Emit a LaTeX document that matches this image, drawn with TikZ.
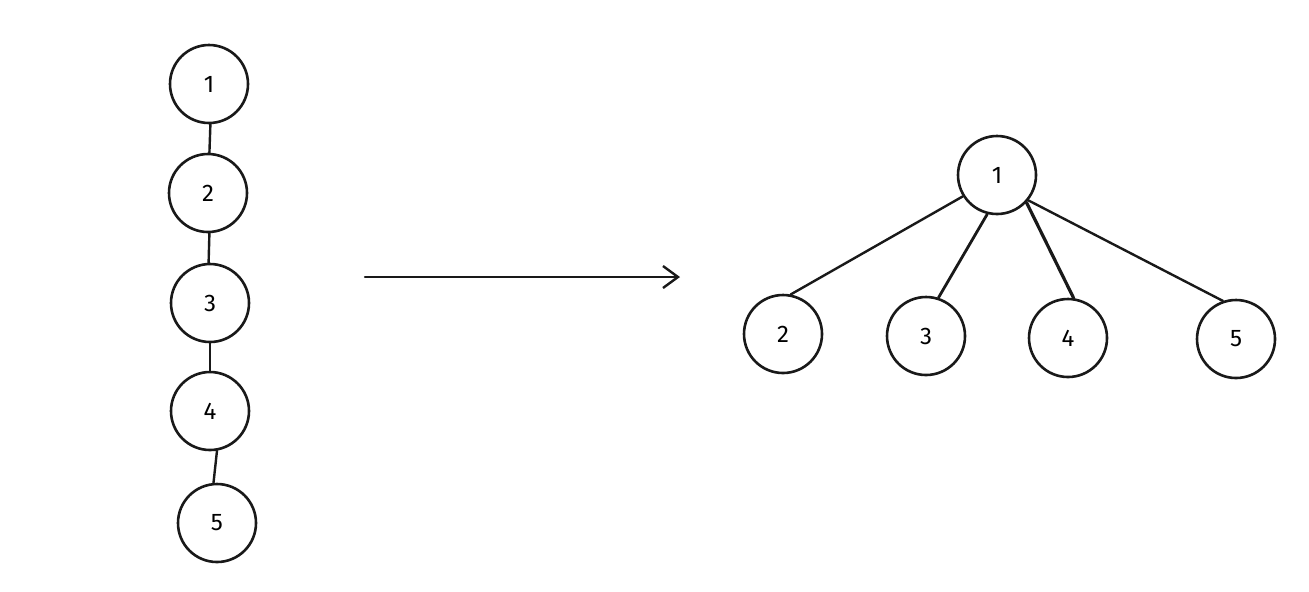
\documentclass[tikz,border=0pt]{standalone}
\usepackage{fontspec}
\setmainfont{Fira Sans}
\usetikzlibrary{arrows.meta}
\begin{document}
\begin{tikzpicture}[x=0.5pt,y=-0.5pt,
  vtx/.style={circle,draw=black!90,line width=1.3pt,minimum size=39pt,inner sep=0pt,font=\fontsize{12}{13}\selectfont},
  edge/.style={draw=black!90,line width=1.2pt,line cap=round}]
\useasboundingbox (0,0) rectangle (1309,591);
% left chain
\node[vtx] (a1) at (209,84) {1};
\node[vtx] (a2) at (208,193) {2};
\node[vtx] (a3) at (210,303) {3};
\node[vtx] (a4) at (210,411) {4};
\node[vtx] (a5) at (217,523) {5};
\draw[edge] (a1.272) -- (a2.88);
\draw[edge] (a2.272) -- (a3.92);
\draw[edge] (a3.270) -- (a4.90);
\draw[edge] (a4.280) -- (a5.95);
% arrow
\coordinate (s) at (365,277);
\coordinate (t) at (680,277);
\draw[edge,-{Straight Barb[length=7.5pt,width=11pt,line width=1.2pt]}] (s) -- (t);
% tree
\node[vtx] (b1) at (997,175) {1};
\node[vtx] (b2) at (783,334) {2};
\node[vtx] (b3) at (926,336) {3};
\node[vtx] (b4) at (1068,338) {4};
\node[vtx] (b5) at (1236,339) {5};
\draw[edge] (b1.212) -- (b2.79);
\draw[edge,line width=1.4pt] (b1.256) -- (b3.72);
\draw[edge,line width=1.6pt] (b1.317) -- (b4.82);
\draw[edge] (b1.321) -- (b5.109);
\end{tikzpicture}
\end{document}
